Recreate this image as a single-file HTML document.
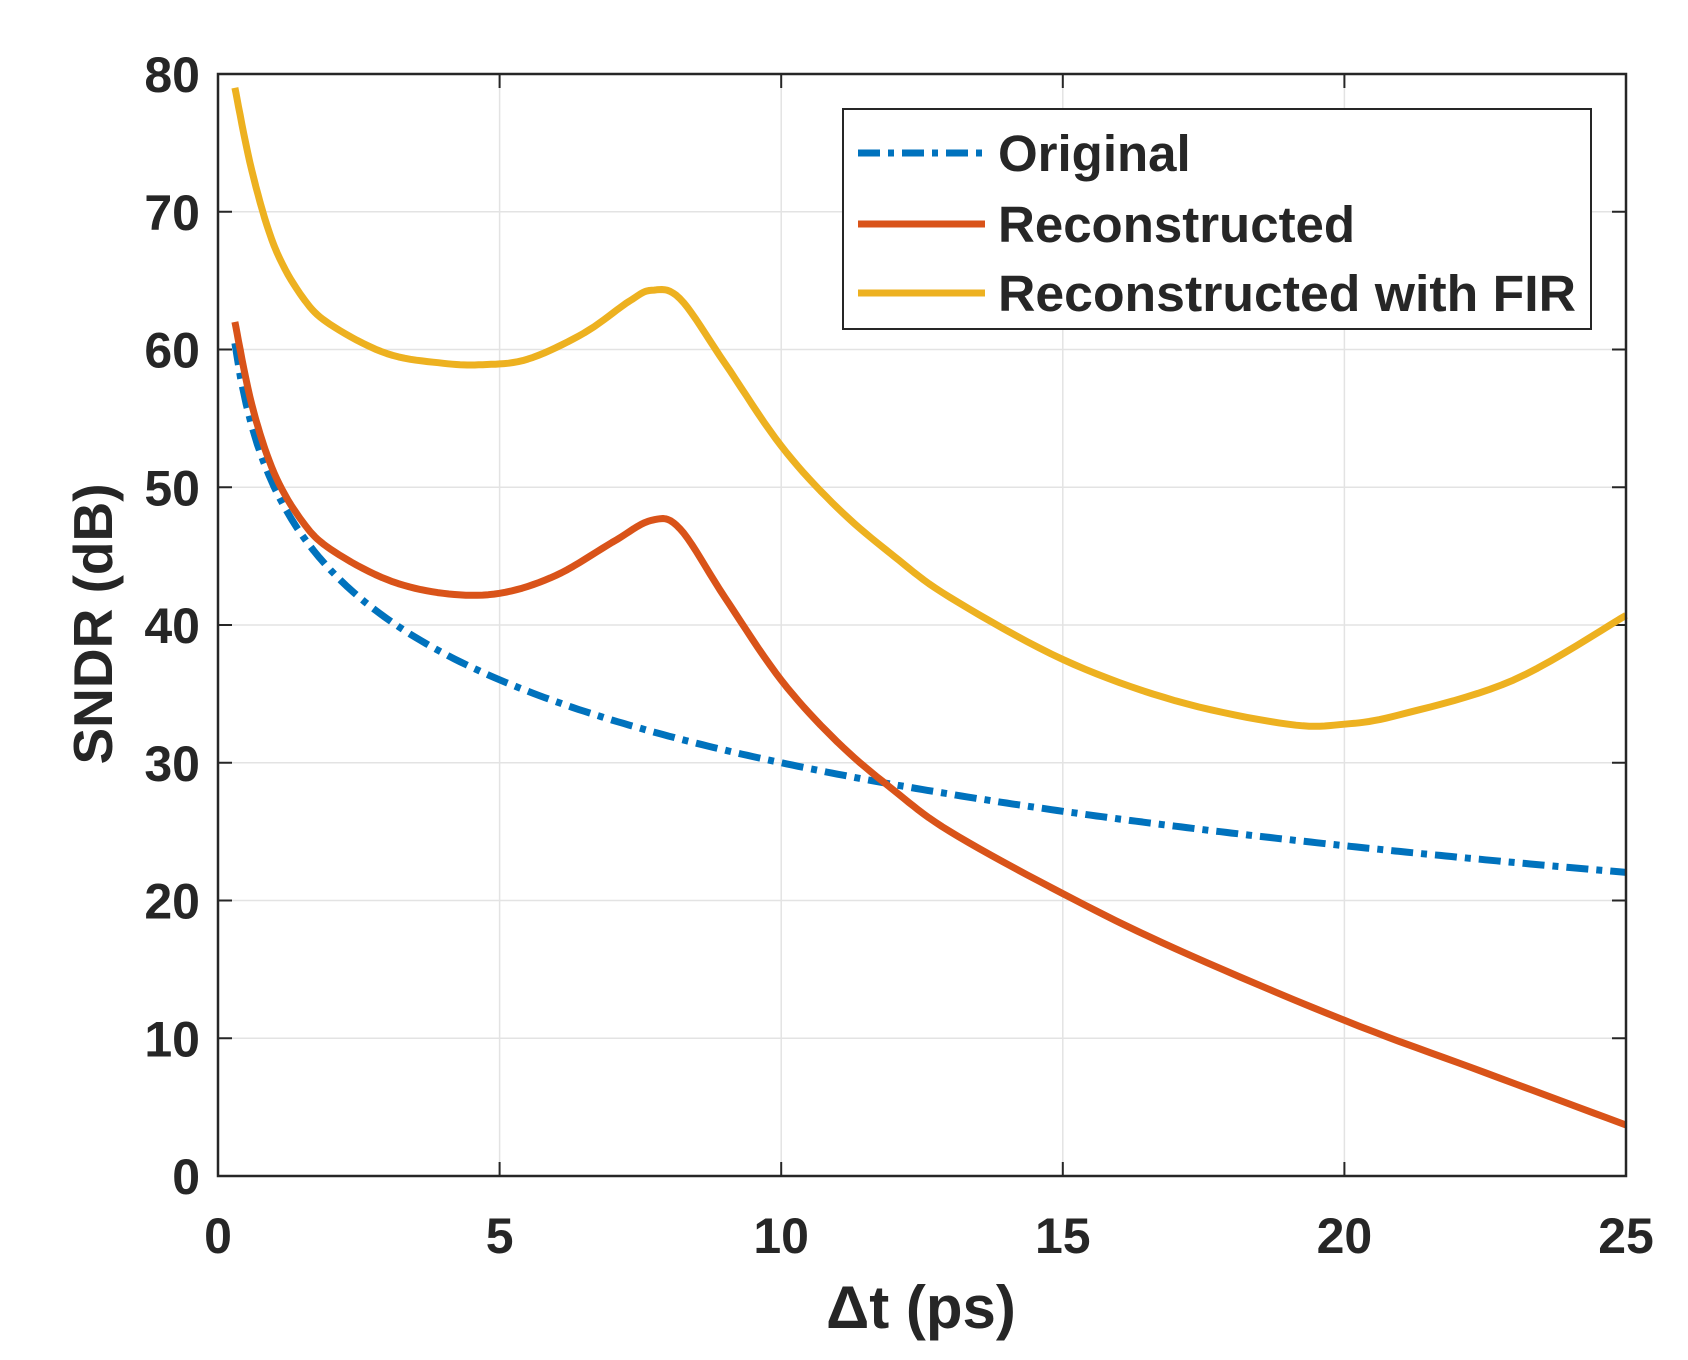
<!DOCTYPE html>
<html><head><meta charset="utf-8"><style>
html,body{margin:0;padding:0;background:#fff;}
svg{display:block;}
text{font-family:"Liberation Sans",Arial,sans-serif;font-weight:bold;fill:#262626;}
</style></head><body>
<svg id="s" width="1688" height="1360" viewBox="0 0 1688 1360" xmlns="http://www.w3.org/2000/svg">
<rect width="1688" height="1360" fill="#fff"/>
<g id="grid" stroke="#e3e3e3" stroke-width="1.5"></g>
<g id="ticks" stroke="#262626" stroke-width="2"></g>
<g id="curves" fill="none" stroke-width="7" stroke-linejoin="round" stroke-linecap="butt"></g>
<rect x="218" y="74" width="1408" height="1102" fill="none" stroke="#262626" stroke-width="2.5"/>
<g id="labels" font-size="50"></g>
<text x="921" y="1328" font-size="60" text-anchor="middle">Δt (ps)</text>
<text transform="translate(112,624) rotate(-90)" font-size="55" text-anchor="middle">SNDR (dB)</text>
<rect x="843" y="109" width="748" height="220" fill="#fff" stroke="#262626" stroke-width="2"/>
<line x1="858" y1="153" x2="985" y2="153" stroke="#0072BD" stroke-width="7" stroke-dasharray="22,8,6,8"/>
<line x1="858" y1="224" x2="985" y2="224" stroke="#D95319" stroke-width="7"/>
<line x1="858" y1="293" x2="985" y2="293" stroke="#EDB120" stroke-width="7"/>
<text x="998" y="171" font-size="51">Original</text>
<text x="998" y="242" font-size="51">Reconstructed</text>
<text x="998" y="311" font-size="51" textLength="578" lengthAdjust="spacingAndGlyphs">Reconstructed with FIR</text>
</svg>
<script>
const X0=218,X1=1626,Y0=1176,Y1=74;
const px=x=>X0+(X1-X0)*x/25, py=y=>Y0-(Y0-Y1)*y/80;
const NS="http://www.w3.org/2000/svg";
function el(p,t,a,txt){const e=document.createElementNS(NS,t);for(const k in a)e.setAttribute(k,a[k]);if(txt!==undefined)e.textContent=txt;document.getElementById(p).appendChild(e);}
for(let i=0;i<=5;i++){const x=px(i*5);
 if(i>0&&i<5)el('grid','line',{x1:x,y1:Y1,x2:x,y2:Y0});
 el('ticks','line',{x1:x,y1:Y0,x2:x,y2:Y0-14});el('ticks','line',{x1:x,y1:Y1,x2:x,y2:Y1+14});
 el('labels','text',{x:x,y:1253,'text-anchor':'middle'},String(i*5));}
for(let j=0;j<=8;j++){const y=py(j*10);
 if(j>0&&j<8)el('grid','line',{x1:X0,y1:y,x2:X1,y2:y});
 el('ticks','line',{x1:X0,y1:y,x2:X0+14,y2:y});el('ticks','line',{x1:X1,y1:y,x2:X1-14,y2:y});
 el('labels','text',{x:200,y:y+18,'text-anchor':'end'},String(j*10));}
function spline(pts){let d='M'+px(pts[0][0])+','+py(pts[0][1]);
 for(let i=0;i<pts.length-1;i++){const p0=pts[Math.max(0,i-1)],p1=pts[i],p2=pts[i+1],p3=pts[Math.min(pts.length-1,i+2)];
  for(let t=0.1;t<=1.0001;t+=0.1){const t2=t*t,t3=t2*t;
   const f=(a,b,c,e)=>0.5*((2*b)+(-a+c)*t+(2*a-5*b+4*c-e)*t2+(-a+3*b-3*c+e)*t3);
   d+=' L'+px(f(p0[0],p1[0],p2[0],p3[0])).toFixed(1)+','+py(f(p0[1],p1[1],p2[1],p3[1])).toFixed(1);}}
 return d;}
let ob=[];for(let x=0.3;x<=25.001;x+=0.1)ob.push([x,30-20*Math.log10(x/10)]);
let d='M'+ob.map(p=>px(p[0]).toFixed(1)+','+py(p[1]).toFixed(1)).join(' L');
el('curves','path',{d:d,stroke:'#0072BD','stroke-dasharray':'22,8,6,8'});
const red=[[0.3,62],[0.6,56],[1,51],[1.5,47.5],[2,45.5],[3,43.3],[4,42.3],[5,42.3],[6,43.6],[7,46],[7.7,47.6],[8.2,47],[9,42],[10,36],[11,31.5],[12,28],[13,25],[15,20.5],[17,16.5],[20,11.3],[22.5,7.5],[25,3.7]];
const yel=[[0.3,79],[0.6,73],[1,67.5],[1.5,63.8],[2,61.8],[3,59.7],[4,59],[4.7,58.9],[5.5,59.3],[6.5,61.2],[7.3,63.5],[7.7,64.3],[8.2,63.7],[9,59],[10,53],[11,48.5],[12,45],[13,42],[15,37.5],[17,34.5],[19,32.8],[20,32.8],[21,33.5],[23,36],[25,40.7]];
el('curves','path',{d:spline(red),stroke:'#D95319'});
el('curves','path',{d:spline(yel),stroke:'#EDB120'});
</script>
</body></html>
